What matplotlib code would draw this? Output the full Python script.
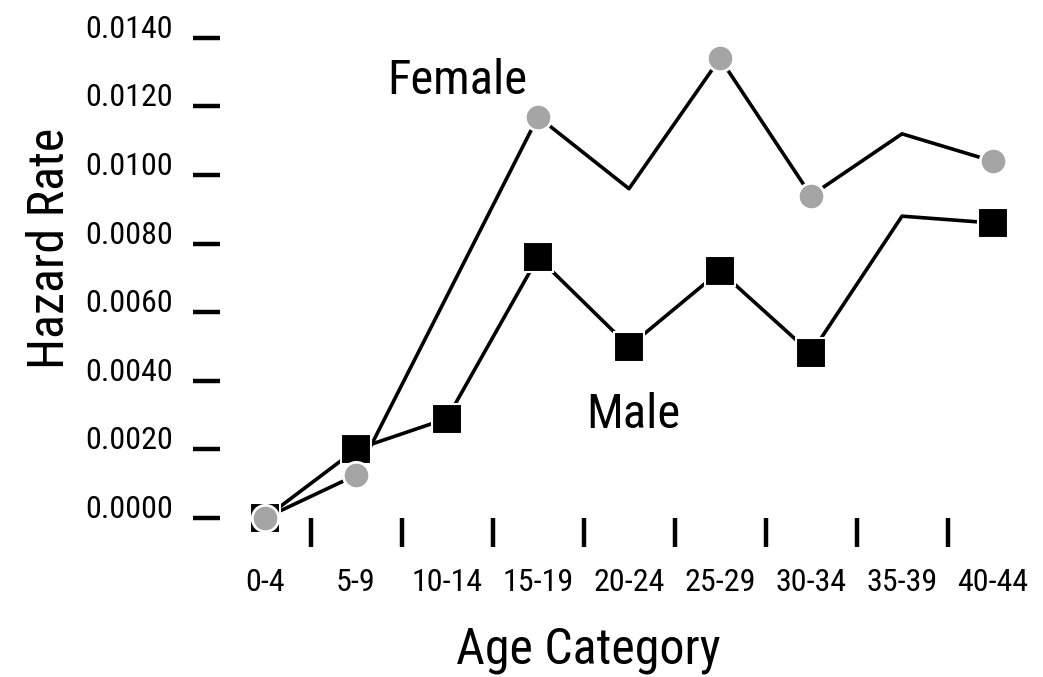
import numpy as np
import pandas as pd
import matplotlib
matplotlib.use('Agg')
import matplotlib.pyplot as plt

plt.rcParams['font.family'] = ['Roboto Condensed', 'Liberation Sans Narrow',
                               'DejaVu Sans']
plt.rcParams['font.stretch'] = 'condensed'

ages = ['0-4', '5-9', '10-14', '15-19', '20-24', '25-29', '30-34', '35-39', '40-44']
# None = no vertex at that age on the female line
female = [0.0000, 0.00125, None, 0.0117, 0.0096, 0.0134, 0.0094, 0.0112, 0.0104]
female_marked = [True, True, False, True, False, True, True, False, True]
male = [0.0000, 0.0020, 0.0029, 0.0076, 0.0050, 0.0072, 0.0048, 0.0088, 0.0086]
male_marked = [True, True, True, True, True, True, True, False, True]
yticks = [0.0, 0.002, 0.004, 0.006, 0.008, 0.010, 0.012, 0.014]

df = pd.DataFrame({'female': female, 'male': male,
                   'fm': female_marked, 'mm': male_marked},
                  index=np.arange(len(ages)))
df['female'] = df['female'].astype(float)

fig = plt.figure(figsize=(10.43, 6.77), dpi=100)
ax = fig.add_axes([219.5/1043, 1-518/677, 819/1043, 480.2/677])
ax.set_xlim(-0.5, 8.5)
ax.set_ylim(0, 0.014)
for s in ax.spines.values():
    s.set_visible(False)

fem = df['female'].dropna()
ax.plot(fem.index, fem.values, color='black', lw=2.6, zorder=2, clip_on=False)
ax.plot(df.index, df['male'], color='black', lw=2.6, zorder=2, clip_on=False)

m = df[df['mm']]
ax.plot(m.index, m['male'], ls='none', marker='s', ms=22, mfc='black',
        mec='white', mew=1.5, zorder=3, clip_on=False)
f = df[df['fm']]
ax.plot(f.index, f['female'], ls='none', marker='o', ms=19, mfc='#a5a5a5',
        mec='white', mew=2, zorder=4, clip_on=False)

ax.text(2.11, 0.01236, 'Female', fontsize=35, ha='center', va='baseline')
ax.text(4.05, 0.00262, 'Male', fontsize=35, ha='center', va='baseline')

# y axis: horizontal bar ticks
ax.set_yticks(yticks)
ax.set_yticklabels(['{:.4f}'.format(v) for v in yticks])
ax.tick_params(axis='y', direction='out', length=19.4, width=3.2, pad=14,
               labelsize=23)
for lab in ax.get_yticklabels():
    lab.set_va('baseline')

# x axis: labels on categories, bars between them
ax.set_xticks(np.arange(len(ages)))
ax.set_xticklabels(ages)
ax.set_xticks(np.arange(len(ages) - 1) + 0.5, minor=True)
ax.tick_params(axis='x', which='major', length=0, pad=36, labelsize=23)
ax.tick_params(axis='x', which='minor', direction='out', length=21, width=3.2)

fig.text(588/1043, 1-663/677, 'Age Category', fontsize=36,
         ha='center', va='baseline')
fig.text(64/1043, 1-248/677, 'Hazard Rate', fontsize=36, rotation=90,
         rotation_mode='anchor', ha='center', va='baseline')

fig.savefig('out.png', dpi=100)
